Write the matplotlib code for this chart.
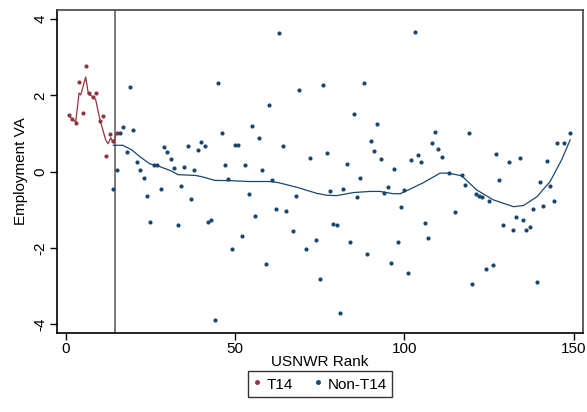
import numpy as np
import matplotlib
matplotlib.use("Agg")
import matplotlib.pyplot as plt
from matplotlib.lines import Line2D

# ---- DATA ----
t14_rank = [1, 2, 3, 4, 5, 6, 7, 8, 9, 10, 11, 12, 13, 14, 15]
t14_va = [1.48, 1.37, 1.27, 2.34, 1.54, 2.76, 2.05, 1.96, 2.07, 1.32,
          1.45, 0.42, 0.99, 0.80, 1.02]

other_rank = [14, 15, 16, 17, 18, 19, 20, 21, 22, 23, 24, 25, 26, 27, 28, 29,
              30, 31, 32, 33, 34, 35, 36, 37, 38, 39, 40, 41, 42, 43, 44, 45,
              46, 47, 48, 49, 50, 51, 52, 53, 54, 55, 56, 57, 58, 59, 60, 61,
              62, 63, 64, 65, 67, 68, 69, 71, 72, 74, 75, 76, 77, 78, 79, 80,
              81, 82, 83, 84, 85, 86, 87, 88, 89, 90, 91, 92, 93, 94, 95, 96,
              97, 98, 99, 100, 101, 102, 103, 104, 105, 106, 107, 108, 109,
              110, 111, 113, 115, 117, 118, 119, 120, 121, 122, 123, 124, 125,
              126, 127, 128, 129, 131, 132, 133, 134, 135, 136, 137, 138, 139,
              140, 141, 142, 143, 144, 145, 147, 149]
other_va = [-0.46, 0.05, 1.00, 1.16, 0.52, 2.23, 1.08, 0.25, 0.04, -0.17,
            -0.65, -1.32, 0.18, 0.18, -0.45, 0.65, 0.52, 0.33, 0.10, -1.40,
            -0.39, 0.12, 0.66, -0.73, 0.05, 0.57, 0.77, 0.67, -1.33, -1.27,
            -3.89, 2.31, 1.01, 0.16, -0.19, -2.03, 0.71, 0.71, -1.70, 0.16,
            -0.58, 1.20, -1.16, 0.89, 0.05, -2.42, 1.74, -0.22, -0.97, 3.64,
            0.66, -1.03, -1.57, -0.63, 2.14, -2.02, 0.36, -1.79, -2.82, 2.26,
            0.48, -0.51, -1.37, -1.41, -3.72, -0.45, 0.19, -1.84, 1.52, -0.66,
            -0.18, 2.33, -2.16, 0.81, 0.55, 1.24, 0.32, -0.55, -0.41, -2.39,
            0.06, -1.85, -0.92, -0.47, -2.65, 0.31, 3.66, 0.44, 0.24, -1.36,
            -1.73, 0.74, 1.04, 0.60, 0.39, -0.04, -1.06, -0.08, -0.34, 1.02,
            -2.94, -0.60, -0.64, -0.67, -2.56, -0.76, -2.46, 0.46, -0.22,
            -1.39, 0.24, -1.54, -1.18, 0.36, -1.26, -1.54, -1.46, -0.97,
            -2.89, -0.27, -0.89, 0.28, -0.37, -0.76, 0.76, 0.74, 1.00]

# smoothed fits (local smoother through each group)
t14_fit_rank = [0.8, 2.95, 3.94, 4.43, 5.9, 6.7, 7.87, 8.86, 10.1, 11.8,
                12.5, 13.3, 14.0, 14.9]
t14_fit_va = [1.47, 1.30, 2.06, 2.01, 2.48, 2.03, 1.97, 1.88, 1.36, 0.83,
              0.73, 0.89, 0.76, 0.98]

other_fit_rank = [14.05, 16.8, 19.5, 21.9, 24.9, 27.8, 30.8, 33.2, 38.2, 40.0,
                  44.0, 49.0, 54.4, 60.5, 62.8, 68.2, 74.1, 77.0, 80.0, 84.9,
                  89.8, 92.8, 96.7, 98.7, 100.7, 105.6, 110.5, 113.0, 116.9,
                  121.3, 126.2, 132.2, 135.1, 139.1, 143.0, 146.4, 148.9]
other_fit_va = [0.69, 0.69, 0.57, 0.39, 0.20, 0.13, 0.03, -0.08, -0.10, -0.13,
                -0.23, -0.24, -0.26, -0.26, -0.29, -0.41, -0.57, -0.62, -0.63,
                -0.55, -0.52, -0.52, -0.58, -0.58, -0.50, -0.29, -0.04, -0.04,
                -0.11, -0.48, -0.74, -0.92, -0.89, -0.66, -0.26, 0.31, 0.83]

cutoff = 14.5
navy = "#1a476f"
maroon = "#90353b"

plt.rcParams["font.family"] = ["Liberation Sans", "DejaVu Sans"]
plt.rcParams["axes.unicode_minus"] = False

fig = plt.figure(figsize=(5.87, 4.12), dpi=100)
ax = fig.add_axes([0.0966, 0.191, 0.896, 0.785])

ax.scatter(t14_rank, t14_va, s=9, color=maroon, linewidths=0, zorder=3)
ax.scatter(other_rank, other_va, s=9, color=navy, linewidths=0, zorder=3)
ax.plot(t14_fit_rank, t14_fit_va, color=maroon, lw=0.9, zorder=2)
ax.plot(other_fit_rank, other_fit_va, color=navy, lw=0.9, zorder=2)

ax.axvline(cutoff, color="#555555", lw=1.1, zorder=1)

ax.set_xlim(-2.66, 152.6)
ax.set_ylim(-4.24, 4.24)
ax.set_xticks([0, 50, 100, 150])
ax.set_yticks([-4, -2, 0, 2, 4])
ax.tick_params(direction="out", length=5, width=1, labelsize=11, pad=1.5)
for lbl in ax.get_yticklabels():
    lbl.set_rotation(90)
    lbl.set_va("center")
for side, sp in ax.spines.items():
    sp.set_linewidth(1.2)
    if side in ("top", "right"):
        sp.set_color("#444444")

ax.set_xlabel("USNWR Rank", fontsize=11, labelpad=-1)
ax.set_ylabel("Employment VA", fontsize=11, labelpad=4)

handles = [
    Line2D([], [], ls="none", marker="o", ms=2.5, color=maroon, label="T14"),
    Line2D([], [], ls="none", marker="o", ms=2.5, color=navy, label="Non-T14"),
]
fig.legend(handles=handles, loc="center", ncol=2,
           bbox_to_anchor=(320 / 587, 1 - 384 / 412),
           fontsize=11, frameon=True, fancybox=False, edgecolor="black",
           handlelength=0.5, handleheight=1.4, handletextpad=0.4,
           columnspacing=1.38, borderpad=0.3)

fig.savefig("out.png", dpi=100)
